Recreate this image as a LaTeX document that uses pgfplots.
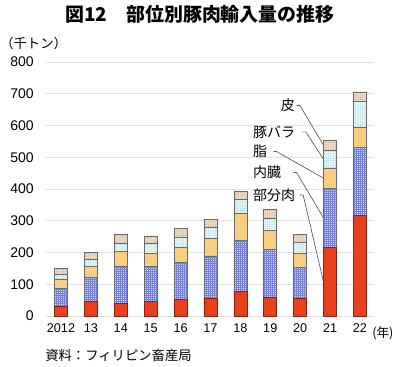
\documentclass[border=0pt]{standalone}
\usepackage{pgfplots}
\pgfplotsset{compat=1.18}
\usepackage{pgfplotstable}
\usetikzlibrary{patterns}
\usepackage{fontspec}
\setmainfont{Liberation Sans}
\newfontfamily\jp{Noto Sans CJK JP}
\definecolor{cred}{HTML}{E8401C}
\definecolor{credd}{HTML}{8A2010}
\definecolor{cblue}{HTML}{D6D9F5}
\definecolor{cblued}{HTML}{7681D6}
\definecolor{corange}{HTML}{F9CD82}
\definecolor{ccyan}{HTML}{E2F4F4}
\definecolor{ccyand}{HTML}{6FB8C8}
\definecolor{ctan}{HTML}{EDD8C4}
\definecolor{ctand}{HTML}{B08E70}
\definecolor{edge}{HTML}{6A6A6A}

\pgfdeclarepatternformonly{finegrid}{\pgfqpoint{-0.2pt}{-0.2pt}}{\pgfqpoint{1.7pt}{1.7pt}}{\pgfqpoint{1.5pt}{1.5pt}}{%
  \pgfsetlinewidth{0.3pt}%
  \pgfpathmoveto{\pgfqpoint{0pt}{0pt}}\pgfpathlineto{\pgfqpoint{1.5pt}{0pt}}%
  \pgfpathmoveto{\pgfqpoint{0pt}{0pt}}\pgfpathlineto{\pgfqpoint{0pt}{1.5pt}}%
  \pgfusepath{stroke}}
\pgfdeclarepatternformonly{finedots}{\pgfqpoint{-0.4pt}{-0.4pt}}{\pgfqpoint{0.4pt}{0.4pt}}{\pgfqpoint{1.7pt}{1.7pt}}{%
  \pgfpathcircle{\pgfqpoint{0pt}{0pt}}{0.3pt}\pgfusepath{fill}}

\pgfplotstableread{
idx red blue orange cyan tan
0 31 56 29 16 19
1 46 75 36 22 21
2 40 116 48 24 28
3 45 110 41 32 24
4 52 118 47 31 27
5 57 132 56 33 27
6 78 160 86 43 26
7 58 151 60 39 27
8 57 96 44 36 24
9 216 186 64 57 30
10 316 215 63 83 29
}\porktab

\begin{document}
\begin{tikzpicture}
\useasboundingbox (0,0) rectangle (300pt,275.25pt);
\begin{axis}[
  at={(33.75pt,38.25pt)}, anchor=south west,
  scale only axis, width=246.75pt, height=190.5pt,
  ybar stacked, bar width=9.75pt,
  xmin=-0.535, xmax=10.47, ymin=0, ymax=800,
  xtick=data, xticklabels={2012,13,14,15,16,17,18,19,20,21,22},
  ytick={0,100,...,800},
  axis line style={draw=none}, major tick length=0pt,
  ymajorgrids, grid style={gray!22, line width=0.6pt},
  yticklabel style={font=\fontsize{10.5}{12}\selectfont, xshift=-5pt},
  xticklabel style={font=\fontsize{9.5}{11}\selectfont, yshift=-2pt},
  /pgf/number format/assume math mode=true,
  clip=false,
]
\addplot[fill=cred, draw=credd, line width=0.5pt] table[x=idx,y=red]{\porktab};
\addplot[fill=cblue, draw=edge, line width=0.5pt, postaction={pattern=finegrid, pattern color=cblued}] table[x=idx,y=blue]{\porktab};
\addplot[fill=corange, draw=edge, line width=0.5pt] table[x=idx,y=orange]{\porktab};
\addplot[fill=ccyan, draw=edge, line width=0.5pt, postaction={pattern=finedots, pattern color=ccyand}] table[x=idx,y=cyan]{\porktab};
\addplot[fill=ctan, draw=edge, line width=0.5pt, postaction={pattern=finedots, pattern color=ctand}] table[x=idx,y=tan]{\porktab};

\node[anchor=east, inner sep=0pt, font=\jp\fontsize{10.5}{12}\selectfont] at (axis cs:7.83,665) {皮};
\node[anchor=west, inner sep=0pt, font=\jp\fontsize{10.5}{12}\selectfont] at (axis cs:6.42,580) {豚バラ};
\node[anchor=west, inner sep=0pt, font=\jp\fontsize{10.5}{12}\selectfont] at (axis cs:6.42,518) {脂};
\node[anchor=west, inner sep=0pt, font=\jp\fontsize{10.5}{12}\selectfont] at (axis cs:6.42,452) {内臓};
\node[anchor=west, inner sep=0pt, font=\jp\fontsize{10.5}{12}\selectfont] at (axis cs:6.42,381) {部分肉};
\draw[black!65, line width=0.5pt] (axis cs:7.88,663) -- (axis cs:7.99,663) -- (axis cs:8.78,538);
\draw[black!65, line width=0.5pt] (axis cs:8.08,580) -- (axis cs:8.19,580) -- (axis cs:8.78,494);
\draw[black!65, line width=0.5pt] (axis cs:7.10,518) -- (axis cs:7.21,518) -- (axis cs:8.78,434);
\draw[black!65, line width=0.5pt] (axis cs:7.77,452) -- (axis cs:7.88,452) -- (axis cs:8.78,309);
\draw[black!65, line width=0.5pt] (axis cs:7.97,381) -- (axis cs:8.10,381) -- (axis cs:8.78,108);
\end{axis}
\node[font=\jp\bfseries\fontsize{14.2}{16}\selectfont] at (150pt,264.75pt) {図12\hspace{1em}部位別豚肉輸入量の推移};
\node[anchor=west, inner sep=0pt, font=\jp\fontsize{10}{12}\selectfont] at (0pt,243pt) {（千トン）};
\node[anchor=west, inner sep=0pt, font=\jp\fontsize{9.5}{11}\selectfont] at (279pt,25.5pt) {(年)};
\node[anchor=west, inner sep=0pt, font=\jp\fontsize{10}{12}\selectfont] at (33.75pt,9pt) {資料：フィリピン畜産局};
\end{tikzpicture}
\end{document}
